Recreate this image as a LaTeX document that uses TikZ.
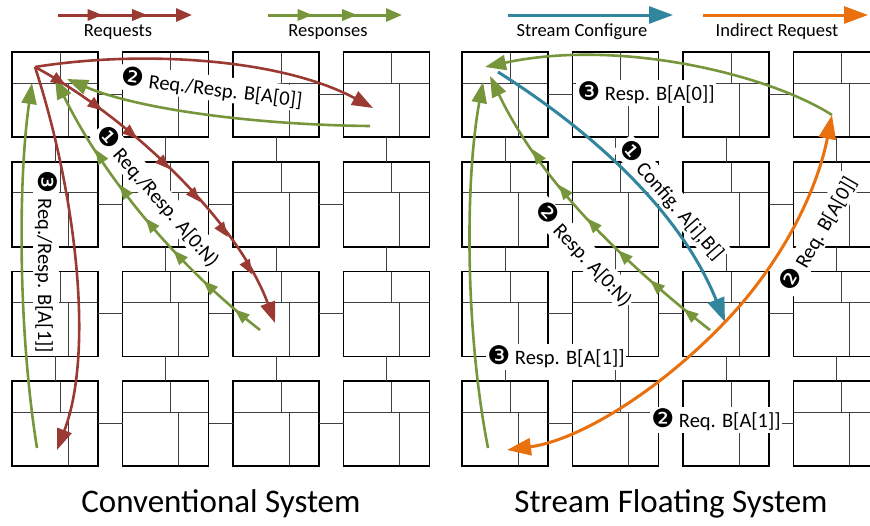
\documentclass[tikz,border=0pt]{standalone}
\usepackage{fontspec}
\setmainfont{Carlito}
\newfontfamily\dingfont{DejaVu Sans}[Scale=1.25]
\usetikzlibrary{arrows.meta, decorations.markings}
\definecolor{reqred}{HTML}{9B3A33}
\definecolor{respgreen}{HTML}{77963C}
\definecolor{cfgteal}{HTML}{31869E}
\definecolor{indorange}{HTML}{EA700D}
\newcommand{\numA}{{\dingfont ❶}}
\newcommand{\numB}{{\dingfont ❷}}
\newcommand{\numC}{{\dingfont ❸}}

\begin{document}
\begin{tikzpicture}[
    x=1pt, y=-1pt,
    tileborder/.style={draw=black, line width=1.6pt},
    tileline/.style={draw=black!75, line width=1pt},
    link/.style={draw=black!75, line width=1pt},
    flow/.style={line width=2.6pt, -{Triangle[length=21pt, width=15pt]}},
    bigflow/.style={line width=3pt, -{Triangle[length=24pt, width=17pt]}},
    legendflow/.style={line width=3pt, -{Triangle[length=16pt, width=13pt]}},
    midheads/.style={postaction={decorate}, decoration={markings,
        mark=between positions #1 with {\arrow{Triangle[length=15pt, width=11pt]}}}},
    lbl/.style={fill=white, inner sep=1.5pt, font=\fontsize{20.5}{24}\selectfont},
    legendlbl/.style={font=\fontsize{18.5}{22}\selectfont},
    title/.style={font=\fontsize{33}{38}\selectfont},
    tile/.pic={
        \draw[tileline] (0,31) -- (86,31) (48,0) -- (48,31) (56,31) -- (56,85);
        \draw[tileborder] (0,0) rectangle (86,85);
    }
]
    \useasboundingbox (0,0) rectangle (870,525);

    % tiles and mesh links
    \foreach \gx in {12,462} {
        \foreach \cx in {0,...,3} \foreach \ry in {0,...,3}
            \pic at ({\gx+110.5*\cx},{52+109.7*\ry}) {tile};
        \foreach \cx in {0,1,2} \foreach \ry in {0,...,3} {
            \draw[link] ({\gx+110.5*\cx+86},{52+109.7*\ry+42.5}) -- ++(24.5,0);
            \draw[link] ({\gx+110.5*\ry+43},{52+109.7*\cx+85}) -- ++(0,24.7);
        }
    }

    % legend
    \coordinate (reqs) at (58,15);   \coordinate (reqe) at (192,15);
    \coordinate (resps) at (268,15); \coordinate (respe) at (402,15);
    \coordinate (cfgs) at (508,15);  \coordinate (cfge) at (673,15);
    \coordinate (inds) at (703,15);  \coordinate (inde) at (868,15);
    \draw[reqred, legendflow, midheads={0.333 and 0.7 step 0.333}] (reqs) -- (reqe);
    \draw[respgreen, legendflow, midheads={0.333 and 0.7 step 0.333}] (resps) -- (respe);
    \draw[cfgteal, bigflow] (cfgs) -- (cfge);
    \draw[indorange, bigflow] (inds) -- (inde);
    \node (reqlbl) [legendlbl] at (118,32) {Requests};
    \node (resplbl) [legendlbl] at (328,32) {Responses};
    \node (cfglbl) [legendlbl] at (582,32) {Stream Configure};
    \node (indlbl) [legendlbl] at (777,32) {Indirect Request};

    % labels
    \node (lreq2) [lbl, rotate=-7] at (212,88) {\numB\ Req./Resp. B[A[0]]};
    \node (lreq1) [lbl, rotate=-49] at (158,196) {\numA\ Req./Resp. A[0:N)};
    \node (lreq3) [lbl, rotate=-90] at (46,262) {\numC\ Req./Resp. B[A[1]]};
    \node (rresp3a) [lbl] at (646,93) {\numC\ Resp. B[A[0]]};
    \node (rcfg1) [lbl, rotate=-49] at (672,200) {\numA\ Config. A[i],B[]};
    \node (rresp2) [lbl, rotate=-47] at (584,254) {\numB\ Resp. A[0:N)};
    \node (rreq2a) [lbl, rotate=60] at (818,234) {\numB\ Req. B[A[0]]};
    \node (rresp3b) [lbl] at (556,357) {\numC\ Resp. B[A[1]]};
    \node (rreq2b) [lbl] at (716,420) {\numB\ Req. B[A[1]]};

    % conventional system
    \coordinate (lsrc) at (35,67);
    \coordinate (lfar) at (373,108);
    \coordinate (ldiag) at (275,323);
    \coordinate (lbot) at (57,450);
    \coordinate (lgfar) at (370,126);   \coordinate (lgtip) at (67,79);
    \coordinate (lgdiag) at (260,330);  \coordinate (lgdtip) at (55,78);
    \coordinate (lgbot) at (37,448);    \coordinate (lgbtip) at (32,83);
    \draw[respgreen, flow] (lgfar) .. controls (260,125) and (140,110) .. (lgtip);
    \draw[respgreen, flow, midheads={0.1 and 0.8 step 0.13}] (lgdiag) .. controls (170,260) and (100,170) .. (lgdtip);
    \draw[respgreen, flow] (lgbot) .. controls (18,330) and (18,180) .. (lgbtip);
    \draw[reqred, flow] (lsrc) .. controls (140,50) and (280,58) .. (lfar);
    \draw[reqred, flow, midheads={0.1 and 0.86 step 0.125}] (lsrc) .. controls (130,118) and (238,222) .. (ldiag);
    \draw[reqred, flow] (lsrc) .. controls (75,190) and (95,350) .. (lbot);

    % stream floating system
    \coordinate (rcfg) at (498,72);
    \coordinate (rsf) at (725,322);
    \coordinate (rtr) at (832,115);
    \coordinate (rbl) at (507,450);
    \coordinate (rgtip) at (485,67);
    \coordinate (rgdiag) at (710,330);  \coordinate (rgdtip) at (490,76);
    \coordinate (rgbot) at (488,448);   \coordinate (rgbtip) at (483,82);
    \draw[respgreen, flow] (rtr) .. controls (770,75) and (620,38) .. (rgtip);
    \draw[respgreen, flow, midheads={0.1 and 0.8 step 0.13}] (rgdiag) .. controls (620,260) and (540,180) .. (rgdtip);
    \draw[respgreen, flow] (rgbot) .. controls (465,330) and (465,180) .. (rgbtip);
    \draw[cfgteal, bigflow] (rcfg) .. controls (590,130) and (680,210) .. (rsf);
    \draw[indorange, bigflow] (rsf) .. controls (775,270) and (815,200) .. (rtr);
    \draw[indorange, bigflow] (rsf) .. controls (660,390) and (580,440) .. (rbl);

    \node (convtitle) [title] at (221,504) {Conventional System};
    \node (sftitle) [title] at (671,504) {Stream Floating System};
\end{tikzpicture}
\end{document}
